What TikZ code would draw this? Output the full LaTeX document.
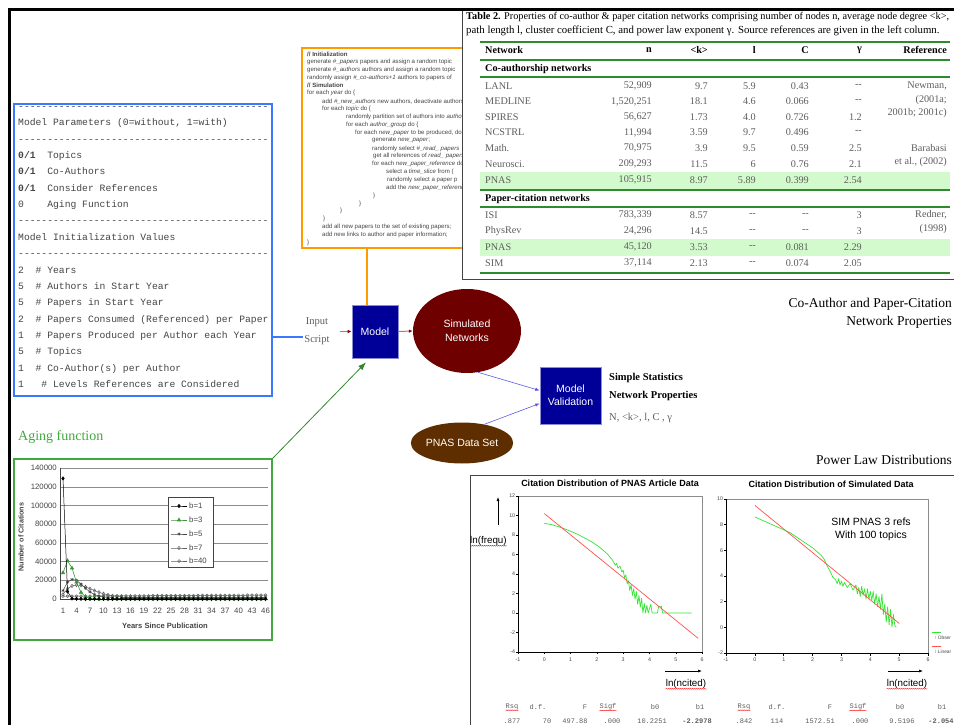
\documentclass[tikz,border=0pt]{standalone}
\usepackage{fontspec}
\setmainfont{Liberation Serif}
\setsansfont{Liberation Sans}
\setmonofont{Liberation Mono}
\usetikzlibrary{arrows.meta,positioning,shapes.geometric,plotmarks,decorations.pathmorphing}
\definecolor{ParamBlue}{HTML}{3A78FF}
\definecolor{CodeOrange}{HTML}{FF9A00}
\definecolor{ModelBlue}{HTML}{000099}
\definecolor{SimRed}{HTML}{6E0000}
\definecolor{DataBrown}{HTML}{5E2E00}
\definecolor{AgeGreen}{HTML}{3FA93F}
\definecolor{RuleGreen}{HTML}{2E8B2E}
\definecolor{BandGreen}{HTML}{D2FACC}
\definecolor{LinkRed}{HTML}{B87878}
\definecolor{TipRed}{HTML}{8B0000}
\definecolor{LinkBlue}{HTML}{5A5AE6}
\definecolor{InkGray}{HTML}{444444}
\definecolor{SoftGray}{HTML}{5E5E5E}
\definecolor{GridGray}{HTML}{8C8C8C}
\definecolor{FitGreen}{HTML}{33E633}
\definecolor{FitRed}{HTML}{FF5050}
\newcommand{\dashrow}{\foreach\k in {1,...,43}{-}}

\begin{document}
\begin{tikzpicture}[x=1pt, y=-1pt,
    parambox/.style={draw=ParamBlue, line width=1.2pt, inner sep=0pt},
    paramtxt/.style={anchor=west, inner sep=0pt, text=InkGray, text height=7pt, text depth=2pt,
      font=\ttfamily\fontsize{9.7}{11}\selectfont},
    codebox/.style={draw=CodeOrange, line width=1.2pt, inner sep=0pt},
    codetxt/.style={anchor=west, inner sep=0pt, text=InkGray, font=\sffamily\fontsize{6.1}{7}\selectfont},
    tabframe/.style={draw=InkGray, fill=white, line width=0.8pt, inner sep=0pt},
    celltxt/.style={inner sep=0pt, text=SoftGray, font=\fontsize{10.2}{12}\selectfont},
    cellw/.style={celltxt, anchor=west},
    celle/.style={celltxt, anchor=east},
    headw/.style={cellw, text=black, font=\bfseries\fontsize{10.2}{12}\selectfont},
    heade/.style={celle, text=black, font=\bfseries\fontsize{10.2}{12}\selectfont},
    rule/.style={draw=RuleGreen, line width=1.6pt},
    procbox/.style={draw=ModelBlue!45!white, fill=ModelBlue, text=white, line width=0.6pt,
      align=center, inner sep=0pt, font=\sffamily\fontsize{10.5}{13}\selectfont},
    simell/.style={ellipse, fill=SimRed, text=white, inner sep=0pt, align=center,
      font=\sffamily\fontsize{10.5}{14}\selectfont},
    dataell/.style={ellipse, fill=DataBrown, text=white, inner sep=0pt,
      font=\sffamily\fontsize{10.5}{12}\selectfont},
    flowred/.style={draw=LinkRed, line width=1pt, -{Latex[length=4pt,width=3.5pt,color=TipRed]}},
    flowblue/.style={draw=LinkBlue, line width=0.6pt, -{Latex[length=4.5pt,width=3.5pt]}},
    serifnote/.style={inner sep=0pt, font=\fontsize{13.5}{18}\selectfont},
    agebox/.style={draw=AgeGreen, line width=1.3pt, inner sep=0pt},
    agearrow/.style={draw=AgeGreen!80!black, line width=0.8pt, -{Latex[length=8pt,width=6pt]}},
    chartlab/.style={inner sep=0pt, text=InkGray, font=\sffamily\fontsize{7.8}{9}\selectfont},
    gridline/.style={draw=GridGray, line width=0.6pt},
    chartaxis/.style={draw=InkGray, line width=0.6pt},
    bone/.style={black, line width=0.5pt, mark=diamond*, mark size=1.7pt},
    bthree/.style={draw=AgeGreen!90!black, line width=0.6pt, mark=triangle*, mark size=1.9pt,
      mark options={fill=AgeGreen!90!black}},
    bfive/.style={InkGray, line width=0.5pt, mark=asterisk, mark size=1.6pt},
    bseven/.style={SoftGray, line width=0.5pt, mark=diamond, mark size=1.7pt},
    bforty/.style={SoftGray, line width=0.5pt, mark=o, mark size=1.4pt},
    plotframe/.style={draw=GridGray, line width=0.5pt},
    axisline/.style={draw=black, line width=0.6pt},
    ticklab/.style={inner sep=0pt, text=InkGray, font=\sffamily\fontsize{5.3}{6}\selectfont},
    fitred/.style={draw=FitRed, line width=0.7pt},
    fitgreen/.style={draw=FitGreen, line width=0.7pt, line join=round},
    plottitle/.style={inner sep=0pt, font=\sffamily\bfseries\fontsize{9}{10}\selectfont},
    axlab/.style={inner sep=0pt, font=\sffamily\fontsize{9.8}{11}\selectfont},
    statstxt/.style={inner sep=0pt, text=SoftGray, font=\ttfamily\fontsize{7}{8}\selectfont},
    spell/.style={draw=red, line width=0.35pt, decorate, decoration={snake, amplitude=0.45pt, segment length=2pt}},
    pointer/.style={draw=black, line width=0.6pt, -{Latex[length=4pt,width=3pt]}}
  ]
  \useasboundingbox (0,0) rectangle (954,725);
  \clip (0,0) rectangle (954,725);

  % model parameters
  \node[parambox, minimum width=258pt, minimum height=292pt] (params) at (143,250) {};
  \foreach \txt [count=\i from 0] in {{\dashrow}, {Model Parameters (0=without, 1=with)}, {\dashrow},
      {\textbf{0/1}\ \ Topics}, {\textbf{0/1}\ \ Co-Authors}, {\textbf{0/1}\ \ Consider References},
      {0\ \ \ \ Aging Function}, {\dashrow}, {Model Initialization Values}, {\dashrow},
      {2\ \ \#\ Years}, {5\ \ \#\ Authors in Start Year}, {5\ \ \#\ Papers in Start Year},
      {2\ \ \#\ Papers Consumed (Referenced) per Paper}, {1\ \ \#\ Papers Produced per Author each Year},
      {5\ \ \#\ Topics}, {1\ \ \#\ Co-Author(s) per Author}, {1\ \ \ \#\ Levels References are Considered}}
    \node[paramtxt] (pline\i) at (18,{107+16.35*\i}) {\txt};

  % simulation script
  \node[codebox, minimum width=180pt, minimum height=200pt] (code) at (392,148) {};
  \foreach \ind/\txt [count=\i from 0] in {
      0/{\textbf{// Initialization}},
      0/{generate \textit{\#\_papers} papers and assign a random topic},
      0/{generate \textit{\#\_authors} authors and assign a random topic},
      0/{randomly assign \textit{\#\_co-authors+1} authors to papers of},
      0/{\textbf{// Simulation}},
      0/{for each \textit{year} do \{},
      15/{add \textit{\#\_new\_authors} new authors, deactivate authors},
      15/{for each \textit{topic} do \{},
      39/{randomly partition set of authors into \textit{author\_groups}},
      39/{for each \textit{author\_group} do \{},
      48/{for each \textit{new\_paper} to be produced, do \{},
      65/{generate \textit{new\_paper};},
      65/{randomly select \textit{\#\_read\_ papers}},
      66/{get all references of \textit{read\_ papers}},
      65/{for each \textit{new\_paper\_reference} do \{},
      79/{select a \textit{time\_slice} from (},
      80/{randomly select a paper p},
      79/{add the \textit{new\_paper\_reference}},
      66/{\}}, 52/{\}}, 33/{\}}, 16/{\}},
      15/{add all new papers to the set of existing papers;},
      15/{add new links to author and paper information;},
      0/{\}}}
    \node[codetxt] (cline\i) at ({307+\ind},{54+7.87*\i}) {\txt};

  % table of network properties
  \node[tabframe, minimum width=520pt, minimum height=269pt] (tab) at (722,144.5) {};
  \node[anchor=west, inner sep=0pt, font=\fontsize{10.3}{12}\selectfont] (cap1) at (466,17)
    {\textbf{Table 2.} Properties of co-author \& paper citation networks comprising number of nodes n, average node degree <k>,};
  \node[anchor=west, inner sep=0pt, font=\fontsize{10.8}{12}\selectfont] (cap2) at (466,31)
    {path length l, cluster coefficient C, and power law exponent γ. Source references are given in the left column.};
  \fill[BandGreen] (480,172) rectangle (950,189);
  \fill[BandGreen] (480,239) rectangle (950,256);
  \foreach \yy/\lw in {42/1.6, 60/1.6, 77/1.6, 190/2.2, 207/1.6, 273/2.2}
    \draw[rule, line width=\lw pt] (480,\yy) -- (950,\yy);
  \node[headw] (hnet) at (485,50) {Network};
  \node[heade] (hn) at (652,50) {n};
  \node[heade] (hk) at (708,50) {<k>};
  \node[heade] (hl) at (756,50) {l};
  \node[heade] (hc) at (809,50) {C};
  \node[heade] (hg) at (862,50) {γ};
  \node[heade] (href) at (947,50) {Reference};
  \node[headw] (sec1) at (485,69) {Co-authorship networks};
  \node[headw] (sec2) at (485,199) {Paper-citation networks};
  \foreach \nm/\va/\vb/\vc/\vd/\ve/\yy [count=\r] in {
      LANL/{52,909}/9.7/5.9/0.43/{-{}-}/86,
      MEDLINE/{1,520,251}/18.1/4.6/0.066/{-{}-}/101.5,
      SPIRES/{56,627}/1.73/4.0/0.726/1.2/117,
      NCSTRL/{11,994}/3.59/9.7/0.496/{-{}-}/132.5,
      Math./{70,975}/3.9/9.5/0.59/2.5/148,
      Neurosci./{209,293}/11.5/6/0.76/2.1/164,
      PNAS/{105,915}/8.97/5.89/0.399/2.54/180,
      ISI/{783,339}/8.57/{-{}-}/{-{}-}/3/215,
      PhysRev/{24,296}/14.5/{-{}-}/{-{}-}/3/231,
      PNAS/{45,120}/3.53/{-{}-}/0.081/2.29/247,
      SIM/{37,114}/2.13/{-{}-}/0.074/2.05/263}
  {
    \node[cellw] (net\r) at (485,\yy) {\nm};
    \node[celle] (n\r) at (652,\yy) {\va};
    \node[celle] (k\r) at (708,\yy) {\vb};
    \node[celle] (l\r) at (756,\yy) {\vc};
    \node[celle] (c\r) at (809,\yy) {\vd};
    \node[celle] (g\r) at (862,\yy) {\ve};
  }
  \foreach \rf/\yy [count=\r] in {{Newman,}/86, {(2001a;}/100, {2001b; 2001c)}/113,
      Barabasi/148, {et al., (2002)}/162, {Redner,}/215, (1998)/229}
    \node[celle] (ref\r) at (947,\yy) {\rf};

  % model flow
  \node[procbox, minimum width=46pt, minimum height=53pt] (model) at (375,331.5) {Model};
  \node[simell, minimum width=108pt, minimum height=84pt] (simnet) at (467,331) {Simulated\\Networks};
  \node[procbox, minimum width=61pt, minimum height=57pt] (valid) at (570.5,395.5) {Model\\Validation};
  \node[dataell, minimum width=96pt, minimum height=41pt] (pnas) at (462,443) {PNAS Data Set};
  \node[inner sep=0pt, align=center, text=SoftGray, font=\fontsize{10.5}{18}\selectfont,
    left=22pt of model] (script) {Input\\Script};
  \node[anchor=west, inner sep=0pt, font=\bfseries\fontsize{10.5}{12}\selectfont] (st1) at (609,378) {Simple Statistics};
  \node[anchor=west, inner sep=0pt, font=\bfseries\fontsize{10.5}{12}\selectfont] (st2) at (609,396) {Network Properties};
  \node[anchor=west, inner sep=0pt, text=SoftGray, font=\fontsize{10.5}{12}\selectfont] (st3) at (609,418) {N, <k>, l, C , γ};
  \node[serifnote, anchor=east, align=right] (coauth) at (952,313) {Co-Author and Paper-Citation\\Network Properties};
  \node[serifnote, anchor=east] (powerlaw) at (952,460) {Power Law Distributions};

  \coordinate (feedtop) at (367,248);
  \coordinate (scriptin) at (303,337);
  \draw[draw=CodeOrange, line width=2pt] (feedtop) -- (feedtop |- model.north);
  \draw[draw=ParamBlue, line width=2pt] (scriptin -| params.east) -- (scriptin);
  \draw[flowred, shorten <=10pt] (script.east |- model.west) -- (model.west);
  \draw[flowred] (model.east) -- (simnet.west);
  \draw[flowblue] (simnet.-75) -- ([yshift=5pt]valid.west);
  \draw[flowblue] (pnas.40) -- ([yshift=-8pt]valid.west);

  % aging function chart
  \node[anchor=west, inner sep=0pt, text=AgeGreen, font=\fontsize{14}{16}\selectfont] (agetitle) at (18,437) {Aging function};
  \node[agebox, minimum width=258pt, minimum height=181pt] (aging) at (143,549.5) {};
  \draw[agearrow] (aging.north east) -- ([xshift=-9pt,yshift=-4pt]model.south);
  \begin{scope}[shift={(63,599)}, x=4.5pt, y=0.935pt]
    \foreach \g in {20,40,...,140}
      \draw[gridline] (-0.67,\g) -- (45.6,\g);
    \draw[chartaxis] (-0.67,0) -- (-0.67,140);
    \draw[chartaxis] (-0.67,0) -- (45.6,0);
    \foreach \g in {0,20,...,140}
      \node[chartlab, anchor=east] (ylab\g) at (-1.33,\g) {\ifnum\g=0 0\else\g000\fi};
    \foreach \yr in {1,4,...,46}
      \node[chartlab] (xlab\yr) at ({\yr-1},-12.8) {\yr};
    \draw[bforty] plot[domain=0:45, samples=46] (\x,{3+0.025*\x});
    \draw[bseven] plot coordinates {(0,5) (1,11) (2,14) (3,15) (4,14.6) (5,13) (6,11) (7,9) (8,7.2) (9,5.6) (10,4.4) (11,3.4) (12,2.8) (13,2.3)};
    \draw[bseven] plot[domain=13:45, samples=33] (\x,2);
    \draw[bfive] plot coordinates {(0,9) (1,18) (2,21) (3,20) (4,16) (5,11.5) (6,7.5) (7,4.8) (8,3.2) (9,2.2) (10,1.6) (11,1.2)};
    \draw[bfive] plot[domain=11:45, samples=35] (\x,1);
    \draw[bthree] plot coordinates {(0,28) (1,41) (2,33) (3,18) (4,7) (5,2.5) (6,1) (7,0.5) (8,0.3)};
    \draw[bthree] plot[domain=8:45, samples=38] (\x,0.2);
    \draw[bone] plot coordinates {(0,129) (1,8) (2,0.5) (3,0.3) (4,0.2) (5,0.1)};
    \draw[bone] plot[domain=5:45, samples=41] (\x,0.05);
  \end{scope}
  \node[chartlab, font=\sffamily\bfseries\fontsize{7.6}{9}\selectfont] (xtitle) at (165,626) {Years Since Publication};
  \node[chartlab, rotate=90, font=\sffamily\bfseries\fontsize{7.2}{9}\selectfont] (ytitle) at (21,537) {Number of Citations};
  \node[draw=InkGray, fill=white, line width=0.6pt, minimum width=45pt, minimum height=70pt] (legend) at (190.5,532) {};
  \foreach \ser/\lab/\yy in {bone/b=1/506, bthree/b=3/520, bfive/b=5/534, bseven/b=7/548, bforty/b=40/561} {
    \draw[\ser, mark indices={2}] plot coordinates {(171,\yy) (179,\yy) (187,\yy)};
    \node[chartlab, anchor=west] (leg\lab) at (189,\yy) {\lab};
  }

  % power law plots
  \draw[draw=InkGray, line width=0.8pt] (470,730) -- (470,475) -- (960,475);
  \node[plottitle] (ptitle1) at (610,483) {Citation Distribution of PNAS Article Data};
  \node[plottitle] (ptitle2) at (831,484) {Citation Distribution of Simulated Data};
  \begin{scope}[shift={(544.3,613)}, x=26.3pt, y=9.75pt]
    \draw[plotframe] (-1,-4) rectangle (6,12);
    \draw[axisline] (-1,12) -- (-1,-4) -- (6,-4);
    \foreach \t in {-1,...,6} {
      \draw[axisline] (\t,-4) -- (\t,-4.25);
      \node[ticklab] (pax\t) at (\t,-4.75) {\t};
    }
    \foreach \t in {-4,-2,...,12} {
      \draw[axisline] (-1,\t) -- (-1.07,\t);
      \node[ticklab, anchor=east] (pay\t) at (-1.1,\t) {\t};
    }
    \draw[fitgreen] plot coordinates {(0,9.2) (0.3,9.05) (0.6,8.8) (0.9,8.5) (1.2,8.15) (1.5,7.75) (1.8,7.3)
      (2.1,6.75) (2.4,6.05) (2.6,5.4) (2.7,4.9) (2.75,5.1) (2.8,4.6) (2.88,4.8) (2.95,4.2) (3.0,4.4)
      (3.05,3.6) (3.1,3.9) (3.15,3.0) (3.2,3.3) (3.25,2.3) (3.3,2.9) (3.35,1.8) (3.4,2.5) (3.45,1.4)
      (3.5,2.2) (3.55,0.9) (3.6,1.8) (3.65,0.6) (3.7,1.5) (3.75,0.0) (3.8,1.0) (3.85,0.0) (3.9,0.8)
      (3.95,0.0) (4.05,0.9) (4.1,0.0) (4.3,0.0) (4.35,0.7) (4.45,0.7) (4.5,0.0) (5.6,0.0)};
    \draw[fitred] (0,10.2) -- (5.85,-2.6);
  \end{scope}
  \begin{scope}[shift={(754.9,627.3)}, x=28.86pt, y=12.83pt]
    \draw[plotframe] (-1,-2) rectangle (6,10);
    \draw[axisline] (-1,10) -- (-1,-2) -- (6,-2);
    \foreach \t in {-1,...,6} {
      \draw[axisline] (\t,-2) -- (\t,-2.2);
      \node[ticklab] (qax\t) at (\t,-2.55) {\t};
    }
    \foreach \t in {-2,0,...,10} {
      \draw[axisline] (-1,\t) -- (-1.06,\t);
      \node[ticklab, anchor=east] (qay\t) at (-1.1,\t) {\t};
    }
    \draw[fitgreen] plot coordinates {(0,8.6) (0.4,8.2) (0.8,7.8) (1.2,7.4) (1.6,6.8) (2.0,6.2) (2.3,5.6)
      (2.4,5.3) (2.5,4.8) (2.6,4.4) (2.7,3.9) (2.8,3.7) (2.85,3.4) (2.9,3.8) (2.95,3.3) (3.0,3.6)
      (3.05,3.2) (3.1,3.5) (3.2,3.1) (3.3,3.4) (3.4,2.9) (3.5,3.3) (3.55,2.6) (3.6,3.1) (3.65,2.4)
      (3.7,3.2) (3.75,2.5) (3.8,3.0) (3.85,2.2) (3.9,3.0) (3.95,2.2) (4.0,2.8) (4.05,2.1) (4.1,2.8)
      (4.15,1.8) (4.2,2.6) (4.25,1.6) (4.3,2.4) (4.35,1.4) (4.4,2.6) (4.45,1.0) (4.5,1.8) (4.55,0.4)
      (4.6,1.6) (4.65,0.2) (4.7,1.4) (4.75,0.0) (4.8,1.0) (4.85,0.1) (4.9,0.0)};
    \draw[fitred] (0,9.5) -- (5,0.3);
  \end{scope}
  \node[inner sep=0pt, align=center, font=\sffamily\fontsize{10.5}{13}\selectfont] (simnote) at (871,529)
    {SIM PNAS 3 refs\\With 100 topics};
  \draw[draw=FitGreen, line width=0.7pt] (932,632) -- (941,632);
  \draw[draw=FitRed, line width=0.7pt] (932,646) -- (941,646);
  \node[ticklab, anchor=west, font=\sffamily\fontsize{4.8}{5}\selectfont] (legobs) at (935,638) {\textcolor{FitGreen}{I} Obser};
  \node[ticklab, anchor=west, font=\sffamily\fontsize{4.8}{5}\selectfont] (leglin) at (935,652) {\textcolor{FitRed}{I} Linear};

  \node[axlab, anchor=west] (lnf) at (470,541) {ln(frequ)};
  \node[axlab] (lnc1) at (686,684) {ln(ncited)};
  \node[axlab] (lnc2) at (907,684) {ln(ncited)};
  \draw[spell] (lnf.south west) -- (lnf.south east);
  \draw[spell] (lnc1.south west) -- (lnc1.south east);
  \draw[spell] (lnc2.south west) -- (lnc2.south east);
  \coordinate (upfoot) at (498,525);
  \coordinate (uphead) at (498,497);
  \draw[pointer] (upfoot) -- (uphead);
  \coordinate (rtfoot1) at (665,671);
  \coordinate (rthead1) at (702,671);
  \draw[pointer] (rtfoot1) -- (rthead1);
  \coordinate (rtfoot2) at (888,671);
  \coordinate (rthead2) at (923,671);
  \draw[pointer] (rtfoot2) -- (rthead2);

  \foreach \lab/\xx [count=\i] in {Rsq/512, d.f./538, F/585, Sigf/608, b0/655, b1/700}
    \node[statstxt] (sa\i) at (\xx,707) {\lab};
  \foreach \val/\xx [count=\i] in {.877/512, 70/547, 497.88/575, .000/612, 10.2251/652, {\textbf{-2.2978}}/697}
    \node[statstxt] (sb\i) at (\xx,721) {\val};
  \foreach \lab/\xx [count=\i] in {Rsq/744, d.f./777, F/830, Sigf/858, b0/900, b1/942}
    \node[statstxt] (sc\i) at (\xx,707) {\lab};
  \foreach \val/\xx [count=\i] in {.842/744, 114/777, 1572.51/820, .000/860, 9.5196/902, {\textbf{-2.054}}/941}
    \node[statstxt] (sd\i) at (\xx,721) {\val};
  \draw[spell] (sa1.south west) -- (sa1.south east);
  \draw[spell] (sa4.south west) -- (sa4.south east);
  \draw[spell] (sc1.south west) -- (sc1.south east);
  \draw[spell] (sc4.south west) -- (sc4.south east);

  % outer frame
  \draw[line width=3pt] (9,730) -- (9,10) -- (960,10);
\end{tikzpicture}
\end{document}
